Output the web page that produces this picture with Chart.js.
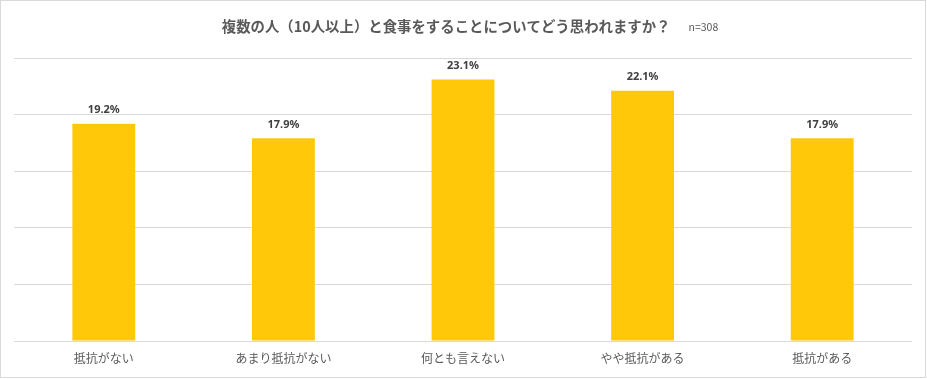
<!DOCTYPE html>
<html>
<head>
<meta charset="utf-8">
<script src="https://cdn.jsdelivr.net/npm/chart.js@4"></script>
<style>
html,body{margin:0;padding:0;background:#fff;}
#wrap{width:927px;height:379px;position:relative;}
</style>
</head>
<body>
<div id="wrap"><canvas id="c" width="927" height="379"></canvas></div>
<script>
const categories = ['抵抗がない', 'あまり抵抗がない', '何とも言えない', 'やや抵抗がある', '抵抗がある'];
const values = [19.2, 17.9, 23.1, 22.1, 17.9];
const titleText = '複数の人（10人以上）と食事をすることについてどう思われますか？';
const noteText = 'n=308';

const FONT = '"Noto Sans CJK JP", "Noto Sans", sans-serif';

const decor = {
  id: 'decor',
  afterDraw(chart) {
    const ctx = chart.ctx;
    ctx.save();
    // outer border
    ctx.strokeStyle = '#d9d9d9';
    ctx.lineWidth = 1;
    ctx.strokeRect(0.5, 0.5, 925, 377);
    // title
    ctx.textBaseline = 'alphabetic';
    ctx.font = 'bold 14.4px ' + FONT;
    const tw = ctx.measureText(titleText).width;
    ctx.font = '10.5px ' + FONT;
    const nw = ctx.measureText(noteText).width;
    const gap = 18;
    const total = tw + gap + nw;
    const x0 = 470 - total / 2;
    ctx.fillStyle = '#595959';
    ctx.font = 'bold 14.4px ' + FONT;
    ctx.textAlign = 'left';
    ctx.fillText(titleText, x0, 32);
    ctx.font = '10.5px ' + FONT;
    ctx.fillText(noteText, x0 + tw + gap, 31);
    // data labels
    const meta = chart.getDatasetMeta(0);
    ctx.font = 'bold 11px "Noto Sans", ' + FONT;
    ctx.fillStyle = '#404040';
    ctx.textAlign = 'center';
    ctx.textBaseline = 'middle';
    meta.data.forEach((bar, i) => {
      ctx.fillText(values[i].toFixed(1) + '%', bar.x, bar.y - 14);
    });
    ctx.restore();
  }
};

new Chart(document.getElementById('c'), {
  type: 'bar',
  data: {
    labels: categories,
    datasets: [{
      data: values,
      backgroundColor: '#FFC90A',
      borderWidth: 0,
      categoryPercentage: 1,
      barPercentage: 0.35
    }]
  },
  options: {
    responsive: false,
    animation: false,
    devicePixelRatio: 1,
    layout: { padding: { top: 58, left: 14, right: 15, bottom: 0 } },
    plugins: { legend: { display: false }, title: { display: false }, tooltip: { enabled: false } },
    scales: {
      x: {
        grid: { display: false, drawTicks: false },
        border: { display: false },
        ticks: { color: '#595959', font: { size: 12, family: FONT }, padding: 10, maxRotation: 0 },
        afterFit(scale) { scale.height = 38; }
      },
      y: {
        min: 0, max: 25,
        ticks: { display: false, stepSize: 5 },
        grid: { color: '#d9d9d9', drawTicks: false, lineWidth: 1 },
        border: { display: false },
        afterFit(scale) { scale.width = 0; }
      }
    }
  },
  plugins: [decor]
});
</script>
</body>
</html>
